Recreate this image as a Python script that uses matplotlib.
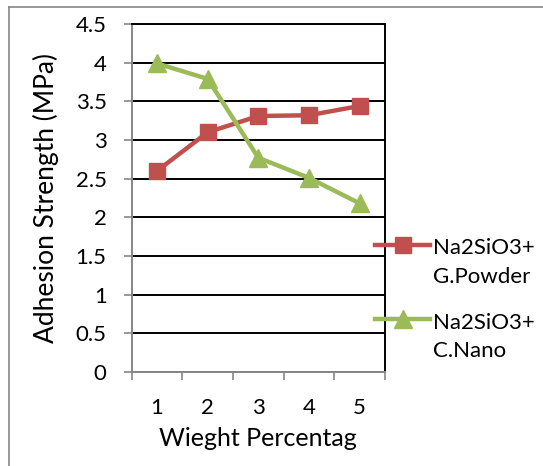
import numpy as np
import matplotlib.pyplot as plt
from matplotlib.lines import Line2D
from matplotlib.legend_handler import HandlerLine2D

# data
weight_pct = [1, 2, 3, 4, 5]
g_powder = [2.60, 3.10, 3.31, 3.32, 3.44]
c_nano = [3.99, 3.79, 2.77, 2.51, 2.18]
labels = ['Na2SiO3+\nG.Powder', 'Na2SiO3+\nC.Nano']

red = '#C0504D'
green = '#9BBB59'
plt.rcParams['font.family'] = ['Lato', 'DejaVu Sans']


class RaisedHandler(HandlerLine2D):
    # put the legend key next to the first text line, like Excel does
    def __init__(self, dy, **kw):
        super().__init__(**kw)
        self.dy = dy

    def create_artists(self, legend, orig_handle, xdescent, ydescent,
                       width, height, fontsize, trans):
        arts = super().create_artists(legend, orig_handle, xdescent, ydescent,
                                      width, height, fontsize, trans)
        for a in arts:
            a.set_ydata(np.asarray(a.get_ydata()) + self.dy)
        return arts


fig = plt.figure(figsize=(5.43, 4.66), dpi=100)
ax = fig.add_axes([0.2425, 0.2017, 0.4666, 0.7468])

x = np.arange(len(weight_pct))
l1, = ax.plot(x, g_powder, color=red, lw=3.2, marker='s', ms=12,
              mfc=red, mec=red, label=labels[0])
l2, = ax.plot(x, c_nano, color=green, lw=3.2, marker='^', ms=13,
              mfc=green, mec=green, label=labels[1])

ax.set_xlim(-0.5, len(weight_pct) - 0.5)
ax.set_ylim(0, 4.5)
ax.set_yticks(np.arange(0, 4.51, 0.5))
ax.set_yticklabels(['0', '0.5', '1', '1.5', '2', '2.5', '3', '3.5', '4', '4.5'])
ax.set_xticks(x)
ax.set_xticklabels([str(w) for w in weight_pct])
ax.set_xticks(np.arange(-0.5, len(weight_pct)), minor=True)
ax.tick_params(axis='x', which='major', length=0, pad=19, labelsize=16)
ax.tick_params(axis='x', which='minor', length=6, width=1.2, color='#868686')
ax.tick_params(axis='y', length=6, width=1.2, color='#868686', pad=12, labelsize=16)

ax.grid(axis='y', color='black', lw=1.4)
ax.set_axisbelow(True)
for s in ['left', 'bottom']:
    ax.spines[s].set_color('#868686')
    ax.spines[s].set_linewidth(1.4)
for s in ['top', 'right']:
    ax.spines[s].set_color('black')
    ax.spines[s].set_linewidth(1.4)

ax.set_xlabel('Wieght Percentag', fontsize=18, labelpad=6)
ax.set_ylabel('Adhesion Strength (MPa)', fontsize=19, labelpad=12)

leg = ax.legend(handles=[l1, l2], loc='upper left', bbox_to_anchor=(0.925, 0.41),
                frameon=False, fontsize=16, handlelength=2.5, handletextpad=0.1,
                labelspacing=1.15, borderaxespad=0,
                handler_map={l1: RaisedHandler(13), l2: RaisedHandler(13)})
for t in leg.get_texts():
    t.set_linespacing(1.55)

# outer chart border
fig.add_artist(Line2D([9 / 543, 9 / 543], [0, 1 - 7 / 466], color='#868686', lw=1.2))
fig.add_artist(Line2D([9 / 543, 1], [1 - 7 / 466, 1 - 7 / 466], color='#868686', lw=1.2))

fig.savefig('out.png', dpi=100)
